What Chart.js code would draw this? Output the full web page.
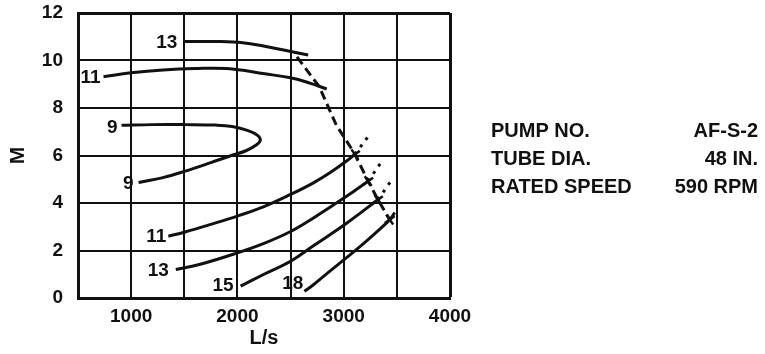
<!DOCTYPE html>
<html><head><meta charset="utf-8">
<script src="https://cdn.jsdelivr.net/npm/chart.js@4/dist/chart.umd.min.js"></script>
<style>html,body{margin:0;padding:0;background:#fff}canvas{display:block}</style>
</head><body>
<canvas id="c" width="765" height="354"></canvas>
<script>
// Head curves: [flow L/s, head M]
const head13Upper = [[1500,10.8],[1800,10.8],[2050,10.75],[2257,10.6],[2500,10.38],[2666,10.23]];
const head11Upper = [[740,9.32],[1000,9.48],[1300,9.6],[1600,9.66],[1900,9.66],[2257,9.44],[2500,9.27],[2680,9.05],[2840,8.8]];
const head9Loop   = [[910,7.27],[1200,7.3],[1500,7.3],[1800,7.28],[1950,7.22],[2100,7.05],[2190,6.85],[2215,6.65],[2180,6.45],[2080,6.2],[1930,5.98],[1750,5.7],[1500,5.33],[1300,5.07],[1070,4.86]];
const head11Lower = [[1350,2.6],[1500,2.77],[1750,3.1],[2000,3.45],[2250,3.85],[2500,4.36],[2715,4.85],[2870,5.27],[3027,5.77],[3105,6.05]];
const head13Lower = [[1420,1.2],[1650,1.42],[2000,1.9],[2250,2.3],[2500,2.8],[2715,3.37],[3027,4.28],[3230,4.92]];
const head15Lower = [[2030,0.5],[2250,1.0],[2500,1.55],[2715,2.2],[3027,3.15],[3322,4.14]];
const head18Lower = [[2630,0.28],[2715,0.56],[2870,1.13],[3027,1.7],[3183,2.28],[3340,2.9],[3433,3.3],[3480,3.6]];
const ext11 = [[3105,6.05],[3230,6.8]];
const ext13 = [[3230,4.92],[3350,5.7]];
const ext15 = [[3322,4.14],[3464,5.05]];
const limitLine = [[2560,10.15],[2770,8.9],[2930,7.28],[3060,6.38],[3105,6.05],[3230,4.92],[3322,4.14],[3433,3.3]];
const limitMarks = [[3105,6.05],[3230,4.92],[3322,4.14],[3433,3.3]];
const curveNames = ['13','11','9','9','11','13','15','18'];
const xTickLabels = [1000,2000,3000,4000];
const infoLabels = ['PUMP NO.','TUBE DIA.','RATED SPEED'];
const infoValues = ['AF-S-2','48 IN.','590 RPM'];

const INK = '#111';
const FONT = '"Liberation Sans", Arial, sans-serif';
const pts = a => a.map(([x,y]) => ({x,y}));
function curve(data, labels){
  return {data: pts(data), showLine: true, borderColor: INK, borderWidth: 3, pointRadius: 0, tension: 0.4, fill: false, curveLabels: labels || []};
}

const datasets = [
  curve(head13Upper, [{text: curveNames[0], at: 'start', gap: 7, dy: 1}]),
  curve(head11Upper, [{text: curveNames[1], at: 'start', gap: 3, dy: 1}]),
  curve(head9Loop,   [{text: curveNames[2], at: 'start', gap: 4, dy: 2}, {text: curveNames[3], at: 'end', gap: 5, dy: 1}]),
  curve(head11Lower, [{text: curveNames[4], at: 'start', gap: 2, dy: 1}]),
  curve(head13Lower, [{text: curveNames[5], at: 'start', gap: 7, dy: 1}]),
  curve(head15Lower, [{text: curveNames[6], at: 'start', gap: 7, dy: 0}]),
  curve(head18Lower, [{text: curveNames[7], at: 'start', gap: 1, dy: -8}]),
  Object.assign(curve(ext11), {borderDash: [3,6], tension: 0}),
  Object.assign(curve(ext13), {borderDash: [3,6], tension: 0}),
  Object.assign(curve(ext15), {borderDash: [3,6], tension: 0}),
  Object.assign(curve(limitLine), {borderDash: [9,5], tension: 0}),
  {data: pts(limitMarks), showLine: false, pointStyle: 'cross', pointRadius: 6, pointBorderWidth: 2.5, pointBorderColor: INK, pointRotation: -35}
];

const labelPlugin = {
  id: 'curveLabels',
  afterDatasetsDraw(chart){
    const ctx = chart.ctx, xs = chart.scales.x, ys = chart.scales.y;
    ctx.save();
    ctx.fillStyle = INK;
    ctx.font = 'bold 19px ' + FONT;
    ctx.textAlign = 'right';
    ctx.textBaseline = 'middle';
    chart.data.datasets.forEach(ds => {
      (ds.curveLabels || []).forEach(l => {
        const p = l.at === 'end' ? ds.data[ds.data.length-1] : ds.data[0];
        ctx.fillText(l.text, xs.getPixelForValue(p.x) - l.gap, ys.getPixelForValue(p.y) + l.dy);
      });
    });
    ctx.font = 'bold 20px ' + FONT;
    ctx.textBaseline = 'alphabetic';
    infoLabels.forEach((t,i) => {
      ctx.textAlign = 'left';
      ctx.fillText(t, 491, 137 + i*28);
      ctx.textAlign = 'right';
      ctx.fillText(infoValues[i], 758, 137 + i*28);
    });
    ctx.restore();
  }
};

new Chart(document.getElementById('c'), {
  type: 'scatter',
  data: {datasets},
  options: {
    responsive: false,
    animation: false,
    layout: {padding: {top: 13, right: 315, bottom: 0, left: 0}},
    plugins: {legend: {display: false}, tooltip: {enabled: false}},
    scales: {
      x: {
        type: 'linear', min: 500, max: 4000,
        afterFit(s){ s.height = 56; s.paddingLeft = 0; s.paddingRight = 0; },
        ticks: {stepSize: 500, autoSkip: false, maxRotation: 0, padding: 7, color: INK,
          font: {family: FONT, size: 19, weight: 'bold'},
          callback: v => xTickLabels.includes(v) ? String(v) : ''},
        grid: {color: INK, lineWidth: c => (c.tick && c.tick.value === 4000) ? 3 : 2, drawTicks: false},
        border: {color: INK, width: 3},
        title: {display: true, text: 'L/s', color: INK, font: {family: FONT, size: 20, weight: 'bold'}, padding: {top: 0, bottom: 4}}
      },
      y: {
        min: 0, max: 12,
        afterFit(s){ s.width = 78; s.paddingTop = 0; s.paddingBottom = 0; },
        ticks: {stepSize: 2, padding: 15, color: INK, font: {family: FONT, size: 19, weight: 'bold'}},
        grid: {color: INK, lineWidth: c => (c.tick && c.tick.value === 12) ? 3 : 2, drawTicks: false},
        border: {color: INK, width: 3},
        title: {display: true, text: 'M', color: INK, font: {family: FONT, size: 21, weight: 'bold'}, padding: {top: 6, bottom: 0}}
      }
    }
  },
  plugins: [labelPlugin]
});
</script>
</body></html>
